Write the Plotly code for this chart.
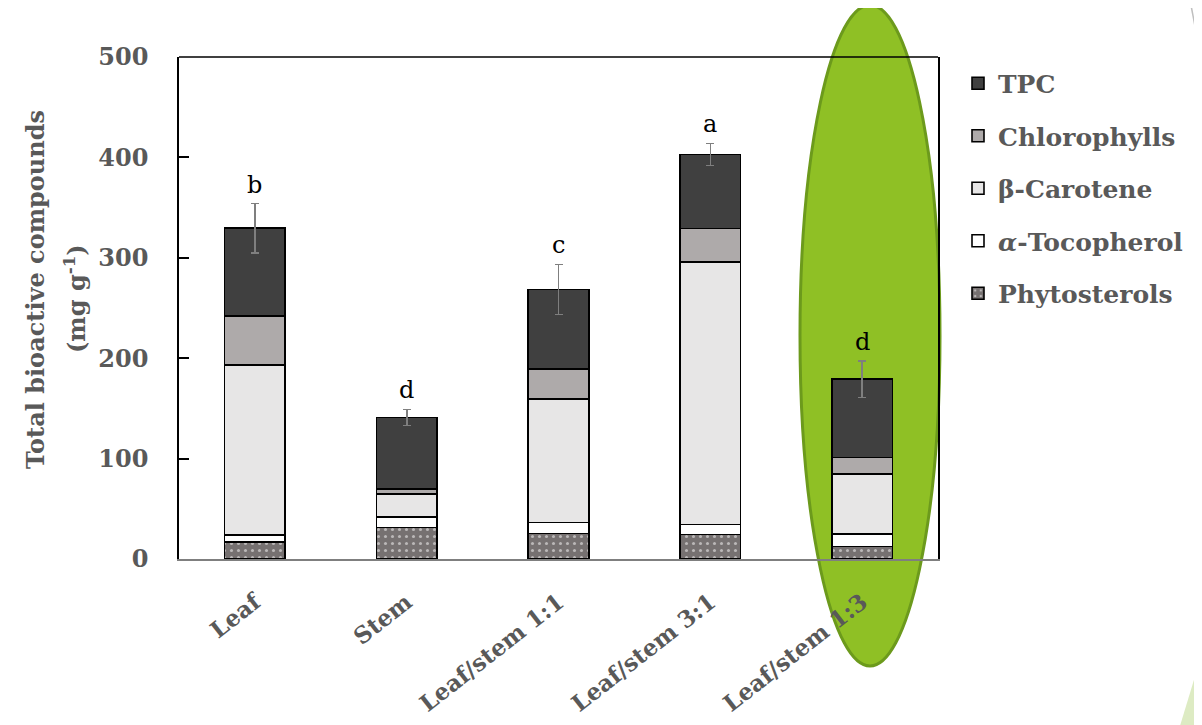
import plotly.graph_objects as go

categories = ["Leaf", "Stem", "Leaf/stem 1:1", "Leaf/stem 3:1", "Leaf/stem 1:3"]

phytosterols = [17, 31.5, 25.5, 24.5, 12.5]
tocopherol = [7, 10.5, 11, 10, 12.5]
carotene = [169, 23, 123, 261.5, 59.5]
chlorophylls = [49, 5, 29.5, 33, 16.5]
tpc = [87.5, 71, 79.5, 74, 78]
tpc_err = [24.5, 8, 25, 11, 18]
letters = ["b", "d", "c", "a", "d"]

series_names = ["Phytosterols", "\u03b1-Tocopherol", "\u03b2-Carotene", "Chlorophylls", "TPC"]
legend_labels = ["Phytosterols", "<i>\u03b1</i>-Tocopherol", "\u03b2-Carotene", "Chlorophylls", "TPC"]
series_values = [phytosterols, tocopherol, carotene, chlorophylls, tpc]
series_colors = ["#767171", "#FFFFFF", "#E7E6E6", "#AEAAAA", "#404040"]
legend_ranks = [5, 4, 3, 2, 1]

FONT = "DejaVu Serif"
GREY = "#595959"

# page body has an 8px margin: the figure is sized to fit the 1202x725 window
W, H = 1194, 717
ML, MR, MT, MB = 171, 264, 49, 166
PW = W - ML - MR
PH = H - MT - MB


def px(x):
    return (x - 8 - ML) / PW


def py(y):
    return (H - MB - (y - 8)) / PH


fig = go.Figure()
for name, lab, vals, col, rk in zip(series_names, legend_labels, series_values,
                                    series_colors, legend_ranks):
    kw = {}
    if name == "TPC":
        kw["error_y"] = dict(type="data", array=tpc_err, visible=True,
                             color="#7F7F7F", thickness=1.6, width=4)
    marker = dict(color=col, line=dict(color="#000000", width=1.6))
    if name == "Phytosterols":
        marker["pattern"] = dict(shape=".", fgcolor="#FFFFFF", bgcolor=col,
                                 size=7, solidity=0.15)
    fig.add_trace(go.Bar(x=categories, y=vals, name=lab, marker=marker,
                         width=0.4, legendgroup=name, legendrank=rk, **kw))

totals = [sum(v) for v in zip(*series_values)]
for cat, tot, err, let in zip(categories, totals, tpc_err, letters):
    fig.add_annotation(x=cat, y=tot + err, text=let, showarrow=False,
                       yanchor="bottom", yshift=3,
                       font=dict(family=FONT, size=24, color="#000000"))

# y-axis title (two lines)
fig.add_annotation(xref="paper", yref="paper", x=px(35), y=py(290),
                   text="Total bioactive compounds", textangle=-90,
                   showarrow=False, xanchor="center", yanchor="middle",
                   font=dict(family=FONT, size=24, color=GREY, weight="bold"))
fig.add_annotation(xref="paper", yref="paper", x=px(75), y=py(299),
                   text="(mg g<sup>-1</sup>)", textangle=-90,
                   showarrow=False, xanchor="center", yanchor="middle",
                   font=dict(family=FONT, size=24, color=GREY, weight="bold"))

# Highlight ellipse (behind everything)
fig.add_shape(type="circle", xref="paper", yref="paper",
              x0=px(800), x1=px(940), y0=py(666), y1=py(5), layer="below",
              fillcolor="#8FC025", line=dict(color="#6C9A1C", width=3))
# Top frame line
fig.add_shape(type="line", xref="paper", yref="paper", x0=0, x1=1, y0=1, y1=1,
              line=dict(color="#000000", width=1.5))
# Slide decorations
fig.add_shape(type="line", xref="paper", yref="paper", x0=px(1190), y0=py(0),
              x1=px(1203), y1=py(68), line=dict(color="#BFBFBF", width=1.5))
fig.add_shape(type="path", xref="paper", yref="paper",
              path="M {:.4f} {:.4f} L {:.4f} {:.4f} L {:.4f} {:.4f} Z".format(
                  px(1180), py(726), px(1203), py(726), px(1203), py(650)),
              fillcolor="#DDEBC3", line=dict(width=0))

fig.update_layout(
    width=W, height=H,
    margin=dict(l=ML, r=MR, t=MT, b=MB, autoexpand=False),
    paper_bgcolor="#FFFFFF", plot_bgcolor="rgba(0,0,0,0)",
    barmode="stack", bargap=0.6,
    font=dict(family=FONT, color=GREY),
    showlegend=True,
    legend=dict(x=1 + 20 / PW, y=0.993, xanchor="left", yanchor="top",
                traceorder="grouped", tracegroupgap=17,
                font=dict(family=FONT, size=25, color=GREY, weight="bold"),
                bgcolor="rgba(0,0,0,0)"),
    xaxis=dict(showline=True, linecolor="#7F7F7F", linewidth=1.5, automargin=False,
               ticks="", tickangle=-38, ticklabelstandoff=19,
               tickfont=dict(family=FONT, size=23, color=GREY, weight="bold")),
    yaxis=dict(range=[0, 500], dtick=100, showgrid=False, zeroline=False,
               automargin=False,
               showline=True, linecolor="#000000", linewidth=1.5, mirror=True,
               ticks="inside", ticklen=10, tickwidth=1.5, tickcolor="#000000",
               tickfont=dict(family=FONT, size=24, color=GREY, weight="bold"),
               ticklabelstandoff=24),
)

fig.write_html("out.html")
